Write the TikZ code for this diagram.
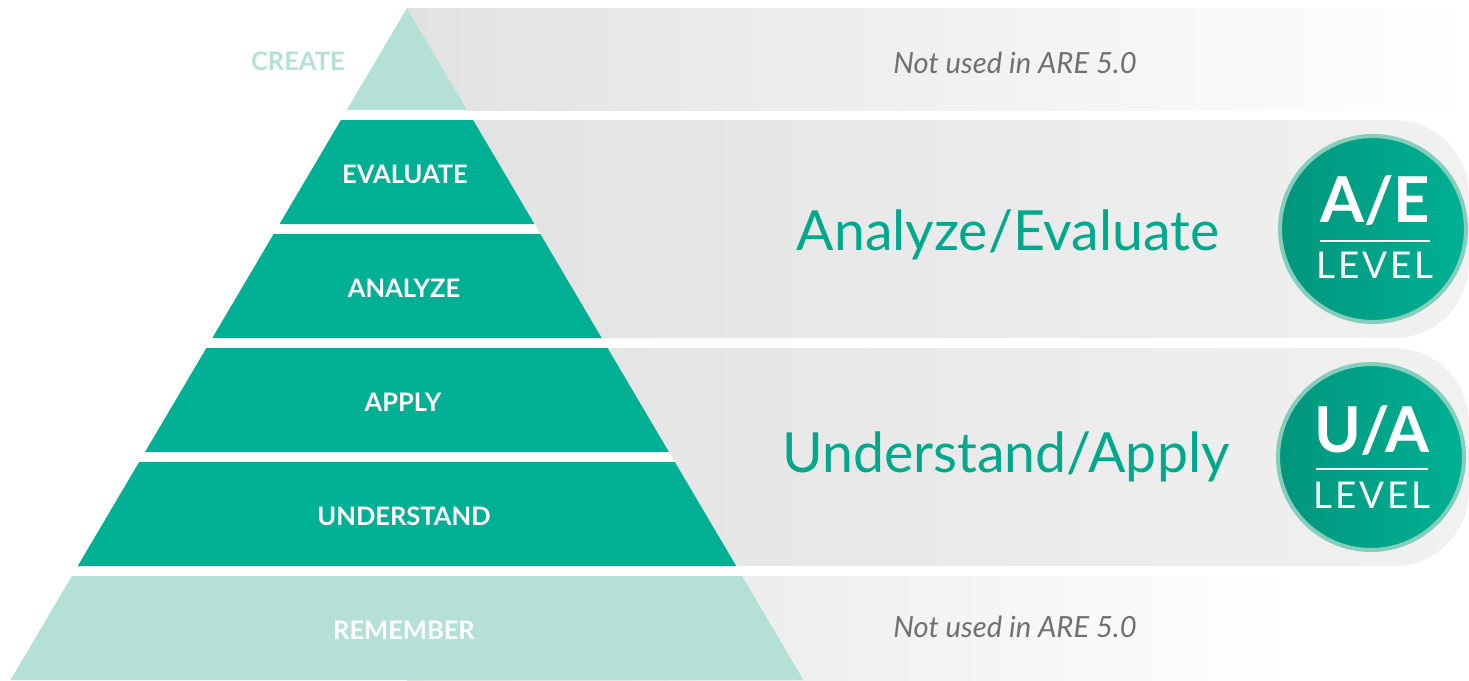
\documentclass[tikz,border=0pt]{standalone}
\usepackage{fontspec}
\setmainfont{Lato}
\definecolor{pyrteal}{RGB}{0,176,148}
\definecolor{paleteal}{RGB}{181,224,213}
\definecolor{ringteal}{RGB}{134,206,188}
\definecolor{darkteal}{RGB}{0,150,124}
\definecolor{bandgray}{RGB}{226,226,226}
\definecolor{bandend}{RGB}{241,241,241}
\definecolor{notegray}{RGB}{112,112,112}
\definecolor{headteal}{RGB}{0,168,140}
\tikzset{
	tier/.style={anchor=base, text=white, font=\bfseries\fontsize{14.5}{14.5}\selectfont},
	levelhead/.style={anchor=base, text=headteal, font=\fontsize{31.5}{31.5}\selectfont},
	notetext/.style={anchor=base, text=notegray, font=\itshape\fontsize{16.6}{16.6}\selectfont},
	badge/.style={circle, minimum size=3.72cm, inner sep=0pt, draw=ringteal, line width=2.3pt, left color=darkteal, right color=pyrteal},
	badgemark/.style={anchor=base, text=white, font=\bfseries\fontsize{36}{36}\selectfont},
	badgelevel/.style={anchor=base, text=white, font=\fontsize{21}{21}\selectfont\addfontfeature{LetterSpace=8}}
}
\begin{document}
\begin{tikzpicture}[x=0.02cm, y=-0.02cm, declare function={hw(\y)=0.59*(\y-8);}]
		\useasboundingbox (0,0) rectangle (1469,680);
		\shade[left color=bandgray, right color=white] (407,8) rectangle (1469,110);
		\shade[left color=bandgray, right color=bandend, rounded corners=1.5cm] (407,120) rectangle (1469,338);
		\shade[left color=bandgray, right color=bandend, rounded corners=1.5cm] (407,348) rectangle (1469,566);
		\shade[left color=bandgray, right color=white] (407,576) rectangle (1290,680);
		
		\fill[white] (407,8) -- ({407+hw(680)},680) -- ({407-hw(680)},680) -- cycle;
		\fill[paleteal] (407,8) -- ({407+hw(110)},110) -- ({407-hw(110)},110) -- cycle;
		\foreach \t/\b in {120/224, 234/338, 348/452, 462/566}
			\fill[pyrteal] ({407-hw(\t)},\t) -- ({407+hw(\t)},\t) -- ({407+hw(\b)},\b) -- ({407-hw(\b)},\b) -- cycle;
		\fill[paleteal] ({407-hw(576)},576) -- ({407+hw(576)},576) -- ({407+hw(680)},680) -- ({407-hw(680)},680) -- cycle;
		
		\node[tier, anchor=base east, text=paleteal] (create) at (351,70) {CREATE};
		\node[tier] (evaluate) at (405,183) {EVALUATE};
		\node[tier] (analyze) at (404,297) {ANALYZE};
		\node[tier] (apply) at (403,411) {APPLY};
		\node[tier] (understand) at (404,525) {UNDERSTAND};
		\node[tier] (remember) at (404,639) {REMEMBER};
		
		\node[notetext] (topnote) at (1015,73) {Not used in ARE 5.0};
		\node[notetext] (bottomnote) at (1015,637) {Not used in ARE 5.0};
		\node[levelhead] (aehead) at (1008,250) {Analyze/Evaluate};
		\node[levelhead] (uahead) at (1006,472) {Understand/Apply};
		
		\node[badge] (aebadge) at (1373,229) {};
		\node[badgemark] (aemark) at (1375,222) {A/E};
		\draw[white, line width=1.1pt] (1320,241) -- (1430,241);
		\node[badgelevel] (aelevel) at (1375,278) {LEVEL};
		
		\node[badge] (uabadge) at (1371,457) {};
		\node[badgemark] (uamark) at (1372,452) {U/A};
		\draw[white, line width=1.1pt] (1316,469) -- (1428,469);
		\node[badgelevel] (ualevel) at (1372,508) {LEVEL};
	\end{tikzpicture}
\end{document}
